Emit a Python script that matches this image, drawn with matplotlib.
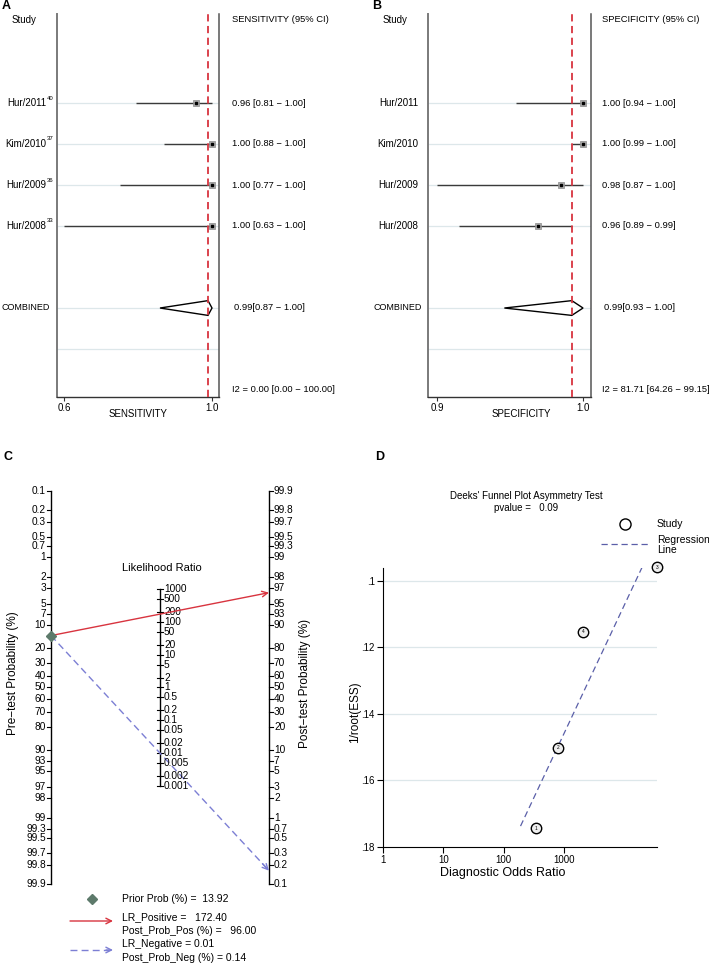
import numpy as np
import matplotlib
matplotlib.use("Agg")
import matplotlib.pyplot as plt
from matplotlib.patches import Polygon

plt.rcParams['font.family'] = ['Liberation Sans', 'DejaVu Sans']

# ---------------- data ----------------
studies_A = ["Hur/2011", "Kim/2010", "Hur/2009", "Hur/2008"]
refs_A = ["40", "37", "36", "33"]
sens = [0.96, 1.00, 1.00, 1.00]
sens_lo = [0.81, 0.88, 0.77, 0.63]
sens_hi = [1.00, 1.00, 1.00, 1.00]
sens_pooled = [0.99, 0.87, 1.00]
sens_i2 = "I2 = 0.00 [0.00 \u2212 100.00]"

studies_B = ["Hur/2011", "Kim/2010", "Hur/2009", "Hur/2008"]
spec = [1.00, 1.00, 0.98, 0.96]
spec_lo = [0.94, 0.99, 0.87, 0.89]
spec_hi = [1.00, 1.00, 1.00, 0.99]
spec_pooled = [0.99, 0.93, 1.00]
spec_i2 = "I2 = 81.71 [64.26 \u2212 99.15]"

pre_ticks = [0.1, 0.2, 0.3, 0.5, 0.7, 1, 2, 3, 5, 7, 10, 20, 30, 40, 50, 60, 70,
             80, 90, 93, 95, 97, 98, 99, 99.3, 99.5, 99.7, 99.8, 99.9]
lr_ticks = [1000, 500, 200, 100, 50, 20, 10, 5, 2, 1, 0.5, 0.2, 0.1, 0.05, 0.02,
            0.01, 0.005, 0.002, 0.001]
prior_prob = 13.92
lr_pos = 172.40
lr_neg = 0.01
post_pos = 96.00
post_neg = 0.14

deeks_ids = [1, 2, 3, 4]
deeks_dor = [345, 800, 35000, 2080]
deeks_y = [0.1744, 0.1502, 0.0958, 0.1153]
deeks_fit = [6.78, -25.9]   # log10(DOR) = a + b * 1/root(ESS)
deeks_fit_range = [0.0958, 0.1741]
deeks_p = 0.09

# ---------------- figure ----------------
W, H = 709, 965
fig = plt.figure(figsize=(W / 100, H / 100), dpi=100)


def ax_px(l, t, r, b):
    return fig.add_axes([l / W, 1 - b / H, (r - l) / W, (b - t) / H])


def ftext(x, y, s, **kw):
    kw.setdefault('fontsize', 7)
    kw.setdefault('va', 'center')
    fig.text(x / W, 1 - y / H, s, **kw)


RED = '#d8343f'
ROWC = '#dde7ea'
TF = 6.75


def forest(l, r, xlim, ticks, ticklabels, xlabel, xlabel_x, names, refs, est, lo, hi,
           pooled, header, i2, text_x, study_x, name_right, comb_right, letter_x, letter):
    ax = ax_px(l, 14, r, 397)
    ax.set_xlim(xlim)
    ax.set_ylim(8.17, -1.17)
    rows = np.arange(1, len(names) + 1)
    for yy in list(rows) + [6, 7]:
        ax.axhline(yy, color=ROWC, lw=0.9, zorder=0)
    ax.hlines(rows, lo, hi, color='#3a3a3a', lw=1.0, zorder=2)
    ax.plot(est, rows, 's', ms=4.8, mfc='#a8a8a8', mec='#8a8a8a', mew=0.5, zorder=3)
    ax.plot(est, rows, 's', ms=2.0, color='black', zorder=4)
    p, plo, phi = pooled
    ax.add_patch(Polygon([[plo, 6], [p, 5.82], [phi, 6], [p, 6.18]], closed=True,
                         fc='white', ec='black', lw=1.0, zorder=3))
    ax.axvline(p, color=RED, ls=(0, (4, 2.5)), lw=1.3, zorder=5)
    ax.spines['top'].set_visible(False)
    ax.spines['left'].set_color('#7a7a7a')
    ax.spines['left'].set_linewidth(1.4)
    ax.spines['right'].set_color('#555555')
    ax.spines['right'].set_linewidth(1.1)
    ax.spines['bottom'].set_color('#333333')
    ax.spines['bottom'].set_linewidth(1.0)
    ax.set_yticks([])
    ax.set_xticks(ticks)
    ax.set_xticklabels(ticklabels, fontsize=7)
    ax.tick_params(axis='x', length=3, width=0.8, pad=1, color='#333333')
    ftext(xlabel_x, 414, xlabel, ha='center')
    ftext(letter_x, 6, letter, fontsize=9, fontweight='bold', ha='left')
    ftext(study_x, 20, "Study", ha='left')
    ftext(text_x, 20, header, ha='left', fontsize=TF)
    for i, nm in enumerate(names):
        y = 103 + 41 * i
        ftext(name_right, y, nm, ha='right')
        if refs is not None:
            ftext(name_right + 0.5, y - 5, refs[i], ha='left', fontsize=4.3)
        ftext(text_x, y, "%.2f [%.2f \u2212 %.2f]" % (est[i], lo[i], hi[i]), ha='left',
              fontsize=TF)
    ftext(comb_right, 308, "COMBINED", ha='right', fontsize=6.5)
    ftext(text_x + 2, 308, "%.2f[%.2f \u2212 %.2f]" % (p, plo, phi), ha='left', fontsize=TF)
    ftext(text_x, 389, i2, ha='left', fontsize=TF)
    return ax


forest(57, 219, (0.6125, 1.0175), [0.63, 1.0], ["0.6", "1.0"], "SENSITIVITY", 138,
       studies_A, refs_A, sens, sens_lo, sens_hi, sens_pooled,
       "SENSITIVITY (95% CI)", sens_i2, 232, 12, 46, 50, 2, "A")
forest(428, 591, (0.862, 1.0071), [0.87, 1.0], ["0.9", "1.0"], "SPECIFICITY", 521,
       studies_B, None, spec, spec_lo, spec_hi, spec_pooled,
       "SPECIFICITY (95% CI)", spec_i2, 602, 383, 418, 422, 372, "B")

# ---------------- Panel C: Fagan nomogram ----------------
axc = ax_px(0, 420, 355, 965)
axc.set_xlim(-51 / 218, 304 / 218)
axc.set_ylim(-9.737, 9.386)
axc.axis('off')


def logit(p):
    return np.log(p / (1 - p))


umax = logit(0.999)
axc.plot([0, 0], [-umax, umax], color='black', lw=1.0)
axc.plot([1, 1], [-umax, umax], color='black', lw=1.0)
tk = 4 / 218
for v in pre_ticks:
    u = -logit(v / 100)
    axc.plot([-tk, 0], [u, u], color='black', lw=0.8)
    axc.text(-tk - 1 / 218, u, "%g" % v, ha='right', va='center', fontsize=7.3)
    u2 = logit(v / 100)
    axc.plot([1, 1 + tk], [u2, u2], color='black', lw=0.8)
    axc.text(1 + tk + 1 / 218, u2, "%g" % v, ha='left', va='center', fontsize=7.3)
lrmax = np.log(1000) / 2
axc.plot([0.5, 0.5], [-lrmax, lrmax], color='black', lw=1.0)
for v in lr_ticks:
    u = np.log(v) / 2
    axc.plot([0.5 - 3 / 218, 0.5 + 3 / 218], [u, u], color='black', lw=0.8)
    axc.text(0.5 + 4 / 218, u, "%g" % v, ha='left', va='center', fontsize=7.3)

u0 = -logit(prior_prob / 100)
u_pos = logit(prior_prob / 100) + np.log(lr_pos)
u_neg = logit(prior_prob / 100) + np.log(lr_neg)
BLUE = '#7c7fd4'
axc.annotate('', xy=(1, u_pos), xytext=(0, u0),
             arrowprops=dict(arrowstyle='->', color=RED, lw=1.0, shrinkA=0, shrinkB=0))
axc.plot([0, 1], [u0, u_neg], color=BLUE, lw=1.0, ls=(0, (5, 3)))
axc.annotate('', xy=(1, u_neg), xytext=(0.97, u0 + 0.97 * (u_neg - u0)),
             arrowprops=dict(arrowstyle='->', color=BLUE, lw=1.0, shrinkA=0, shrinkB=0))
axc.plot([0], [u0], 'D', color='#5d7a6b', ms=5, zorder=5)

ftext(4, 457, "C", fontsize=9, fontweight='bold', ha='left')
ftext(162, 568, "Likelihood Ratio", ha='center', fontsize=8)
ftext(13, 673, "Pre\u2212test Probability (%)", ha='center', rotation=90, fontsize=8.5)
ftext(305, 683, "Post\u2212test Probability (%)", ha='center', rotation=90, fontsize=8.5)

# legend of C
axl = ax_px(0, 880, 355, 965)
axl.set_xlim(0, 355)
axl.set_ylim(965, 880)
axl.axis('off')
axl.plot([92], [899], 'D', color='#5d7a6b', ms=5)
axl.annotate('', xy=(113, 921), xytext=(70, 921),
             arrowprops=dict(arrowstyle='->', color=RED, lw=1.0, shrinkA=0, shrinkB=0))
axl.plot([70, 109], [950, 950], color=BLUE, lw=1.0, ls=(0, (5, 3)))
axl.annotate('', xy=(113, 950), xytext=(106, 950),
             arrowprops=dict(arrowstyle='->', color=BLUE, lw=1.0, shrinkA=0, shrinkB=0))
ftext(122, 899, "Prior Prob (%%) =  %.2f" % prior_prob, ha='left', fontsize=7.5)
ftext(122, 917, "LR_Positive =   %.2f" % lr_pos, ha='left', fontsize=7.5)
ftext(122, 931, "Post_Prob_Pos (%%) =   %.2f" % post_pos, ha='left', fontsize=7.5)
ftext(122, 944, "LR_Negative = %.2f" % lr_neg, ha='left', fontsize=7.5)
ftext(122, 958, "Post_Prob_Neg (%%) = %.2f" % post_neg, ha='left', fontsize=7.5)

# ---------------- Panel D: Deeks funnel ----------------
axd = ax_px(383, 568, 657, 847)
axd.set_xscale('log')
axd.set_xlim(1, 10 ** ((657 - 383) / 60.3))
axd.set_ylim(0.18, 0.0961)
for g in [0.10, 0.12, 0.14, 0.16]:
    axd.axhline(g, color=ROWC, lw=0.9, zorder=0)
yy = np.linspace(deeks_fit_range[0], deeks_fit_range[1], 50)
axd.plot(10 ** (deeks_fit[0] + deeks_fit[1] * yy), yy, color='#5a5fa8', lw=0.9,
         ls=(0, (5, 3)))
axd.plot(deeks_dor, deeks_y, 'o', ms=7.5, mfc='#eeeeee', mec='black', mew=1.0,
         zorder=4, clip_on=False)
for i, d, y in zip(deeks_ids, deeks_dor, deeks_y):
    axd.text(d, y, str(i), ha='center', va='center', fontsize=3.5, zorder=5)
axd.spines['top'].set_visible(False)
axd.spines['right'].set_visible(False)
axd.set_yticks([0.10, 0.12, 0.14, 0.16, 0.18])
axd.set_yticklabels([".1", ".12", ".14", ".16", ".18"], fontsize=7)
axd.set_xticks([1, 10, 100, 1000])
axd.set_xticklabels(["1", "10", "100", "1000"], fontsize=7)
axd.minorticks_off()
axd.tick_params(length=4, width=0.8, pad=2)
ftext(355, 712, "1/root(ESS)", ha='center', rotation=90, fontsize=8.5)
ftext(503, 873, "Diagnostic Odds Ratio", ha='center', fontsize=9)
ftext(375, 457, "D", fontsize=9, fontweight='bold', ha='left')
ftext(526, 496, "Deeks' Funnel Plot Asymmetry Test", ha='center', fontsize=7)
ftext(526, 508, "pvalue =   %.2f" % deeks_p, ha='center', fontsize=7)
axdl = ax_px(590, 510, 709, 560)
axdl.set_xlim(590, 709)
axdl.set_ylim(560, 510)
axdl.axis('off')
axdl.plot([625], [524], 'o', ms=8, mfc='white', mec='black', mew=1.0)
axdl.plot([601, 650], [544, 544], color='#5a5fa8', lw=0.9, ls=(0, (5, 3)))
ftext(657, 524, "Study", ha='left', fontsize=7.5)
ftext(657, 540, "Regression", ha='left', fontsize=7.5)
ftext(657, 550, "Line", ha='left', fontsize=7.5)

fig.savefig("out.png", dpi=100)
